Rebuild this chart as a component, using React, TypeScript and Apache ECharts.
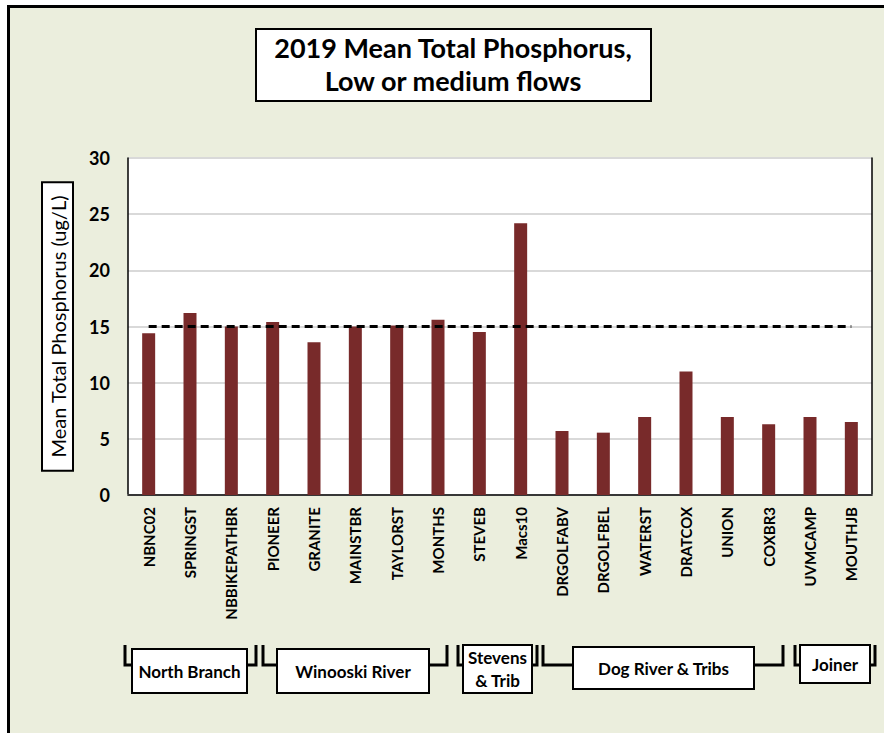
import React, { useEffect, useRef } from "react";
import * as echarts from "echarts";

const categories = [
  "NBNC02", "SPRINGST", "NBBIKEPATHBR", "PIONEER", "GRANITE", "MAINSTBR",
  "TAYLORST", "MONTHS", "STEVEB", "Macs10", "DRGOLFABV", "DRGOLFBEL",
  "WATERST", "DRATCOX", "UNION", "COXBR3", "UVMCAMP", "MOUTHJB",
];
const meanTP = [
  14.4, 16.2, 15.0, 15.4, 13.6, 15.0, 15.1, 15.6, 14.5, 24.2,
  5.7, 5.55, 6.95, 11.0, 6.95, 6.3, 6.95, 6.5,
];
const targetValue = 15;
const yTicks = [0, 5, 10, 15, 20, 25, 30];
const titleLines = ["2019 Mean Total Phosphorus,", "Low or medium flows"];
const yAxisTitle = "Mean Total Phosphorus (ug/L)";
const groupNames = ["North Branch", "Winooski River", "Stevens\n& Trib", "Dog River & Tribs", "Joiner"];

const FONT = "Lato, 'Open Sans', sans-serif";

// decoration layout for group labels (box rect + bracket x positions)
const groupLayout = [
  { box: [132, 649, 115, 44], bl: 125, br: 256 },
  { box: [277, 649, 152, 44], bl: 263, br: 447 },
  { box: [463, 645, 69, 48], bl: 458, br: 537 },
  { box: [573, 647, 181, 42], bl: 543, br: 783 },
  { box: [800, 645, 70, 38], bl: 795, br: 875 },
];

export default function App() {
  const ref = useRef<HTMLDivElement>(null);
  useEffect(() => {
    document.body.style.margin = "0";
    const chart = echarts.init(ref.current!, null, { renderer: "svg" });
    const graphics: any[] = [];
    // title box
    graphics.push({
      type: "rect",
      shape: { x: 256, y: 29, width: 395, height: 72 },
      style: { fill: "#fff", stroke: "#000", lineWidth: 2 },
      z: 10,
    });
    titleLines.forEach((t, i) => {
      graphics.push({
        type: "text",
        x: 453,
        y: 47 + i * 33,
        style: {
          text: t,
          font: `bold 27px ${FONT}`,
          fill: "#000",
          align: "center",
          verticalAlign: "middle",
        },
        z: 11,
      });
    });
    groupNames.forEach((name, i) => {
      const g = groupLayout[i];
      const [x, y, w, h] = g.box;
      const ly = 665;
      graphics.push({
        type: "polyline",
        shape: { points: [[g.bl, 645], [g.bl, ly], [x, ly]] },
        style: { stroke: "#000", lineWidth: 3, fill: "none" },
        z: 9,
      });
      graphics.push({
        type: "polyline",
        shape: { points: [[x + w, ly], [g.br, ly], [g.br, 645]] },
        style: { stroke: "#000", lineWidth: 3, fill: "none" },
        z: 9,
      });
      graphics.push({
        type: "rect",
        shape: { x, y, width: w, height: h },
        style: { fill: "#fff", stroke: "#000", lineWidth: 2 },
        z: 10,
      });
      graphics.push({
        type: "text",
        x: x + w / 2,
        y: y + h / 2,
        style: {
          text: name,
          font: `bold 17px ${FONT}`,
          fill: "#000",
          align: "center",
          verticalAlign: "middle",
          lineHeight: 23,
        },
        z: 11,
      });
    });

    chart.setOption({
      animation: false,
      backgroundColor: "transparent",
      grid: {
        left: 128,
        right: 12,
        top: 158,
        bottom: 238,
        show: true,
        backgroundColor: "#fff",
        borderWidth: 0,
      },
      xAxis: [
        {
          type: "category",
          data: categories,
          axisTick: { show: false },
          axisLine: { lineStyle: { color: "#d9d9d9", width: 2 } },
          axisLabel: {
            rotate: 90,
            interval: 0,
            margin: 12,
            color: "#000",
            fontWeight: "bold",
            fontSize: 15,
            fontFamily: FONT,
          },
        },
        {
          type: "category",
          data: categories,
          position: "top",
          axisTick: { show: false },
          axisLabel: { show: false },
          axisLine: { lineStyle: { color: "#000", width: 1.5 } },
        },
      ],
      yAxis: [
        {
          type: "value",
          min: 0,
          max: 30,
          interval: 5,
          name: yAxisTitle,
          nameLocation: "middle",
          nameRotate: 90,
          nameGap: 56,
          nameTextStyle: {
            fontSize: 20,
            fontFamily: FONT,
            color: "#000",
            backgroundColor: "#fff",
            borderColor: "#000",
            borderWidth: 2,
            padding: [5, 12, 4, 12],
          },
          axisLine: { show: true, lineStyle: { color: "#000", width: 1.5 } },
          axisTick: { show: false },
          splitLine: { lineStyle: { color: "#d9d9d9", width: 2 } },
          axisLabel: {
            margin: 18,
            color: "#000",
            fontWeight: "bold",
            fontSize: 18,
            fontFamily: FONT,
            customValues: yTicks,
          },
        },
        {
          type: "value",
          min: 0,
          max: 30,
          interval: 5,
          position: "right",
          axisLine: { show: true, lineStyle: { color: "#000", width: 1.5 } },
          axisTick: { show: false },
          axisLabel: { show: false },
          splitLine: { show: false },
        },
      ],
      series: [
        {
          type: "bar",
          data: meanTP,
          barWidth: 13,
          itemStyle: { color: "#782a2a" },
          markLine: {
            silent: true,
            symbol: "none",
            label: { show: false },
            lineStyle: { color: "#000", width: 3, type: [8, 5] },
            data: [
              [
                { coord: [0, targetValue] },
                { coord: [categories.length - 1, targetValue] },
              ],
            ],
          },
        },
      ],
      graphic: graphics,
    });
    return () => chart.dispose();
  }, []);

  return (
    <div style={{ position: "relative", width: 884, height: 733, background: "#fff", overflow: "hidden" }}>
      <div
        style={{
          position: "absolute",
          left: 7,
          top: 5,
          width: 900,
          height: 760,
          background: "#ebeedd",
          borderLeft: "3px solid #000",
          borderTop: "3px solid #000",
        }}
      />
      <div ref={ref} style={{ position: "absolute", left: 0, top: 0, width: 884, height: 733 }} />
    </div>
  );
}
